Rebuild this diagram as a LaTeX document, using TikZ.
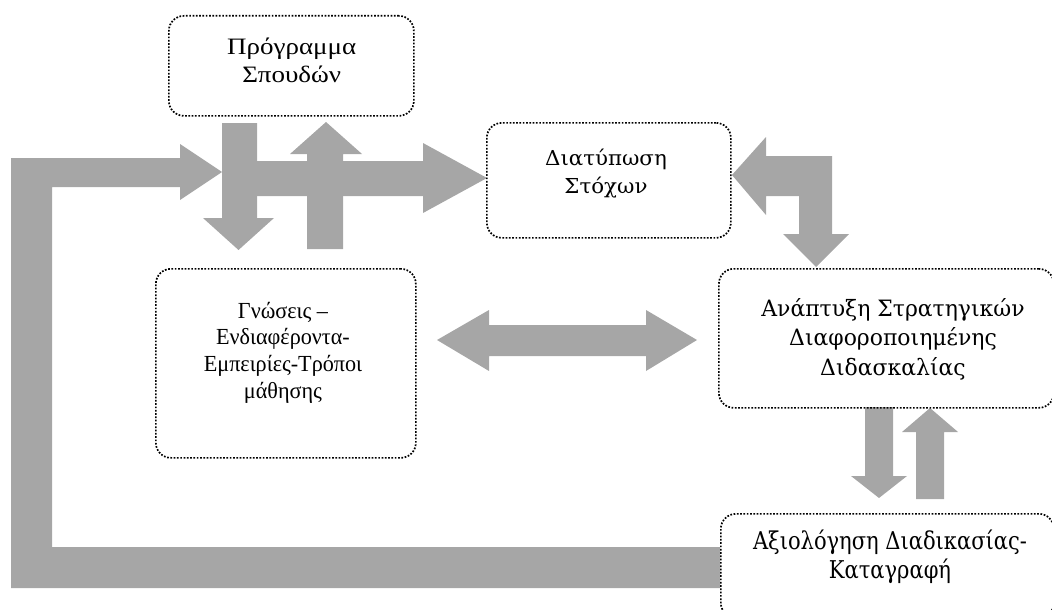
\documentclass[tikz,border=0pt]{standalone}
\usepackage{fontspec}
\usepackage{graphicx}
\setmainfont{Liberation Serif}
\newfontfamily\cam{DejaVu Serif}
\definecolor{arrowgray}{RGB}{166,166,166}
% scale a centred block of lines horizontally so that it is #1 pt wide
\newcommand\fitblock[2]{\resizebox{#1pt}{\height}{\begin{tabular}[t]{@{}c@{}}#2\end{tabular}}}
\begin{document}
\begin{tikzpicture}[x=1pt,y=-1pt,
  box/.style={draw=black, dash pattern=on 1.7pt off 1.6pt, line width=1.7pt,
              rounded corners=15pt, inner sep=0pt, anchor=north west},
  blk/.style={fill=arrowgray, draw=none},
  txt/.style={anchor=base, inner sep=0pt}]
\useasboundingbox (0,0) rectangle (1052,610);
\clip (0,0) rectangle (1052,610);

% block arrows
\fill[blk] (720,547) -- (52,547) -- (52,187) -- (180,187) -- (180,200) -- (222,172)
  -- (180,144) -- (180,158) -- (11,158) -- (11,588) -- (720,588) -- cycle;
\fill[blk] (230,161) -- (423,161) -- (423,143) -- (487,178) -- (423,213) -- (423,196)
  -- (230,196) -- cycle;
\fill[blk] (222,123) -- (257,123) -- (257,218) -- (274,218) -- (238.5,250) -- (203,218)
  -- (222,218) -- cycle;
\fill[blk] (307,249) -- (307,154) -- (290,154) -- (326,122) -- (362,154) -- (343,154)
  -- (343,249) -- cycle;
\fill[blk] (732,175) -- (766,137) -- (766,156) -- (832,156) -- (832,234) -- (849,234)
  -- (816,267) -- (783,234) -- (799,234) -- (799,196) -- (766,196) -- (766,215) -- cycle;
\fill[blk] (437,340) -- (489,310) -- (489,325) -- (646,325) -- (646,310) -- (697,340)
  -- (646,371) -- (646,356) -- (489,356) -- (489,371) -- cycle;
\fill[blk] (865,407) -- (893,407) -- (893,476) -- (907,476) -- (879,498) -- (851,476)
  -- (865,476) -- cycle;
\fill[blk] (916,499) -- (916,432) -- (902,432) -- (930,408) -- (958,432) -- (944,432)
  -- (944,499) -- cycle;

% boxes
\node[box, minimum width=245pt, minimum height=100pt] (prog) at (168,15) {};
\node[box, minimum width=244pt, minimum height=115pt] (diat) at (486,122) {};
\node[box, minimum width=260pt, minimum height=189pt] (gnos) at (155,268) {};
\node[box, minimum width=335pt, minimum height=139pt] (anap) at (718,268) {};
\node[box, minimum width=333pt, minimum height=104pt] (axio) at (720,513) {};

% texts
\node[txt, font=\fontsize{23.5}{28}\selectfont] (progt) at (291.7,55)
  {\fitblock{129}{Πρόγραμμα\\Σπουδών}};
\node[txt, font=\cam\fontsize{20.6}{28.3}\selectfont] (diatt) at (606,165)
  {\fitblock{121.7}{Διατύπωση\\Στόχων}};
\node[txt, font=\fontsize{23}{26.8}\selectfont] (gnost) at (283,318)
  {\fitblock{158.3}{Γνώσεις –\\Ενδιαφέροντα-\\Εμπειρίες-Τρόποι\\μάθησης}};
\node[txt, font=\cam\fontsize{22.5}{29.2}\selectfont] (anapt) at (893,316.7)
  {\fitblock{263.3}{Ανάπτυξη Στρατηγικών\\Διαφοροποιημένης\\Διδασκαλίας}};
\node[txt, font=\cam\fontsize{24.5}{29.5}\selectfont] (axiot) at (890,549)
  {\fitblock{274}{Αξιολόγηση Διαδικασίας-\\Καταγραφή}};
\end{tikzpicture}
\end{document}
